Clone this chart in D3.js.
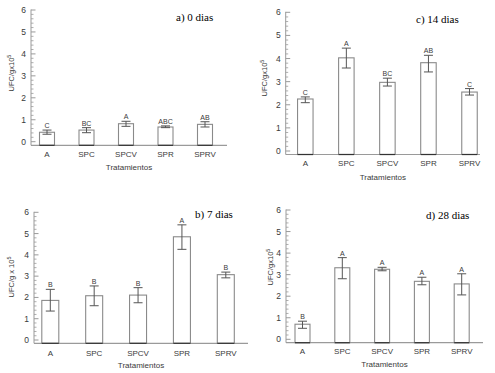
<!DOCTYPE html>
<html>
<head>
<meta charset="utf-8">
<script src="https://cdn.jsdelivr.net/npm/d3@7"></script>
<style>
  html, body { margin: 0; padding: 0; background: #fff; }
  svg { display: block; }
</style>
</head>
<body>
<svg id="chart" width="495" height="373"></svg>
<script>
// ---------- DATA ----------
const categories = ["A", "SPC", "SPCV", "SPR", "SPRV"];
const yTicks = [0, 1, 2, 3, 4, 5, 6];

// a) 0 dias
const means0   = [0.43, 0.53, 0.82, 0.67, 0.79];
const errHi0   = [0.53, 0.64, 0.93, 0.72, 0.91];
const errLo0   = [0.34, 0.41, 0.70, 0.64, 0.67];
const letters0 = ["C", "BC", "A", "ABC", "AB"];

// b) 7 dias
const means7   = [1.86, 2.08, 2.11, 4.85, 3.07];
const errHi7   = [2.38, 2.54, 2.46, 5.41, 3.19];
const errLo7   = [1.36, 1.61, 1.75, 4.26, 2.92];
const letters7 = ["B", "B", "B", "A", "B"];

// c) 14 dias
const means14   = [2.25, 4.03, 2.97, 3.82, 2.55];
const errHi14   = [2.34, 4.45, 3.15, 4.14, 2.70];
const errLo14   = [2.09, 3.59, 2.81, 3.42, 2.42];
const letters14 = ["C", "A", "BC", "AB", "C"];

// d) 28 dias
const means28   = [0.70, 3.32, 3.25, 2.69, 2.57];
const errHi28   = [0.84, 3.79, 3.34, 2.88, 3.04];
const errLo28   = [0.51, 2.81, 3.18, 2.53, 2.06];
const letters28 = ["B", "A", "A", "A", "A"];

const titles = ["a) 0 dias", "b) 7 dias", "c) 14 dias", "d) 28 dias"];
const yLabels = ["UFC/gx10", "UFC/g x 10", "UFC/gx10", "UFC/gx10"];
const xLabel = "Tratamientos";

// ---------- LAYOUT ----------
const panels = [
  { means: means0, hi: errHi0, lo: errLo0, letters: letters0, title: titles[0], ylab: yLabels[0],
    axX: 31, y0: 141.7, y6: 10, baseY: 145.3, xEnd: 227, c0: 47, c1: 205, bw: 15,
    tX: 176, tY: 21, ylX: 14, ylY: 73, tickY: 157, xlY: 170 },
  { means: means7, hi: errHi7, lo: errLo7, letters: letters7, title: titles[1], ylab: yLabels[1],
    axX: 34, y0: 340, y6: 212.3, baseY: 343.3, xEnd: 248, c0: 50.3, c1: 225.8, bw: 17,
    tX: 195, tY: 218, ylX: 14, ylY: 277, tickY: 355.5, xlY: 367.5 },
  { means: means14, hi: errHi14, lo: errLo14, letters: letters14, title: titles[2], ylab: yLabels[2],
    axX: 285.7, y0: 151, y6: 12.3, baseY: 154.5, xEnd: 480, c0: 305.3, c1: 469.5, bw: 15.5,
    tX: 416, tY: 23, ylX: 267, ylY: 78, tickY: 166, xlY: 180 },
  { means: means28, hi: errHi28, lo: errLo28, letters: letters28, title: titles[3], ylab: yLabels[3],
    axX: 286, y0: 339.3, y6: 210, baseY: 342.7, xEnd: 483, c0: 302.5, c1: 461.7, bw: 15,
    tX: 426, tY: 219, ylX: 273, ylY: 267, tickY: 354, xlY: 366.5 }
];

const svg = d3.select("#chart");
const axisColor = "#9a9a9a";
const barColor = "#8a8a8a";
const errColor = "#555";
const textColor = "#3a3a3a";
const sans = "'Liberation Sans', Arial, sans-serif";
const serif = "'Liberation Serif', 'Times New Roman', serif";

panels.forEach(p => {
  const g = svg.append("g");
  const y = d3.scaleLinear().domain([0, 6]).range([p.y0, p.y6]);
  const x = d3.scalePoint().domain(categories).range([p.c0, p.c1]);

  // y axis line
  g.append("line").attr("x1", p.axX).attr("x2", p.axX)
    .attr("y1", y(6) - 0.5).attr("y2", p.baseY)
    .attr("stroke", axisColor).attr("stroke-width", 1);
  // minor ticks
  const minors = d3.range(0, 30.5, 1).map(i => i / 5).filter(v => !yTicks.includes(v));
  g.selectAll(".minor").data(minors).enter().append("line")
    .attr("x1", p.axX).attr("x2", p.axX + 2.5)
    .attr("y1", d => y(d)).attr("y2", d => y(d))
    .attr("stroke", axisColor).attr("stroke-width", 0.8);
  // major ticks
  g.selectAll(".major").data(yTicks).enter().append("line")
    .attr("x1", p.axX).attr("x2", p.axX + 4.5)
    .attr("y1", d => y(d)).attr("y2", d => y(d))
    .attr("stroke", axisColor).attr("stroke-width", 1);
  g.selectAll(".ylab").data(yTicks).enter().append("text")
    .attr("x", p.axX - 5).attr("y", d => y(d))
    .attr("dy", "0.35em").attr("text-anchor", "end")
    .attr("font-family", sans).attr("font-size", 8.5).attr("fill", textColor)
    .text(d => d);

  // x axis line
  g.append("line").attr("x1", p.axX).attr("x2", p.xEnd)
    .attr("y1", p.baseY).attr("y2", p.baseY)
    .attr("stroke", axisColor).attr("stroke-width", 1.2);

  // bars
  const idx = d3.range(categories.length);
  g.selectAll(".bar").data(idx).enter().append("rect")
    .attr("x", i => x(categories[i]) - p.bw / 2)
    .attr("y", i => y(p.means[i]))
    .attr("width", p.bw)
    .attr("height", i => p.baseY - y(p.means[i]))
    .attr("fill", "#fff").attr("stroke", barColor).attr("stroke-width", 1.1);
  g.selectAll(".barbase").data(idx).enter().append("line")
    .attr("x1", i => x(categories[i]) - p.bw / 2)
    .attr("x2", i => x(categories[i]) + p.bw / 2)
    .attr("y1", p.baseY).attr("y2", p.baseY)
    .attr("stroke", "#333").attr("stroke-width", 1.2);

  // error bars
  const cap = 4.5;
  g.selectAll(".ev").data(idx).enter().append("line")
    .attr("x1", i => x(categories[i])).attr("x2", i => x(categories[i]))
    .attr("y1", i => y(p.hi[i])).attr("y2", i => y(p.lo[i]))
    .attr("stroke", errColor).attr("stroke-width", 1);
  g.selectAll(".eh").data(idx).enter().append("line")
    .attr("x1", i => x(categories[i]) - cap).attr("x2", i => x(categories[i]) + cap)
    .attr("y1", i => y(p.hi[i])).attr("y2", i => y(p.hi[i]))
    .attr("stroke", errColor).attr("stroke-width", 1);
  g.selectAll(".el").data(idx).enter().append("line")
    .attr("x1", i => x(categories[i]) - cap).attr("x2", i => x(categories[i]) + cap)
    .attr("y1", i => y(p.lo[i])).attr("y2", i => y(p.lo[i]))
    .attr("stroke", errColor).attr("stroke-width", 1);

  // letters
  g.selectAll(".let").data(idx).enter().append("text")
    .attr("x", i => x(categories[i]))
    .attr("y", i => y(p.hi[i]) - 2)
    .attr("text-anchor", "middle")
    .attr("font-family", sans).attr("font-size", 7).attr("fill", textColor)
    .text(i => p.letters[i]);

  // x tick labels
  g.selectAll(".xl").data(categories).enter().append("text")
    .attr("x", d => x(d)).attr("y", p.tickY)
    .attr("text-anchor", "middle")
    .attr("font-family", sans).attr("font-size", 8).attr("fill", textColor)
    .text(d => d);

  // x axis title
  g.append("text")
    .attr("x", (p.axX + p.xEnd) / 2).attr("y", p.xlY)
    .attr("text-anchor", "middle")
    .attr("font-family", sans).attr("font-size", 8).attr("fill", textColor)
    .text(xLabel);

  // y axis title with superscript
  const yt = g.append("text")
    .attr("transform", `translate(${p.ylX},${p.ylY}) rotate(-90)`)
    .attr("text-anchor", "middle")
    .attr("font-family", sans).attr("font-size", 7.5).attr("fill", textColor);
  yt.append("tspan").text(p.ylab);
  yt.append("tspan").attr("dy", -3.5).attr("font-size", 5.5).text("5");

  // panel title
  g.append("text")
    .attr("x", p.tX).attr("y", p.tY)
    .attr("font-family", serif).attr("font-size", 11).attr("fill", "#000")
    .text(p.title);
});
</script>
</body>
</html>
